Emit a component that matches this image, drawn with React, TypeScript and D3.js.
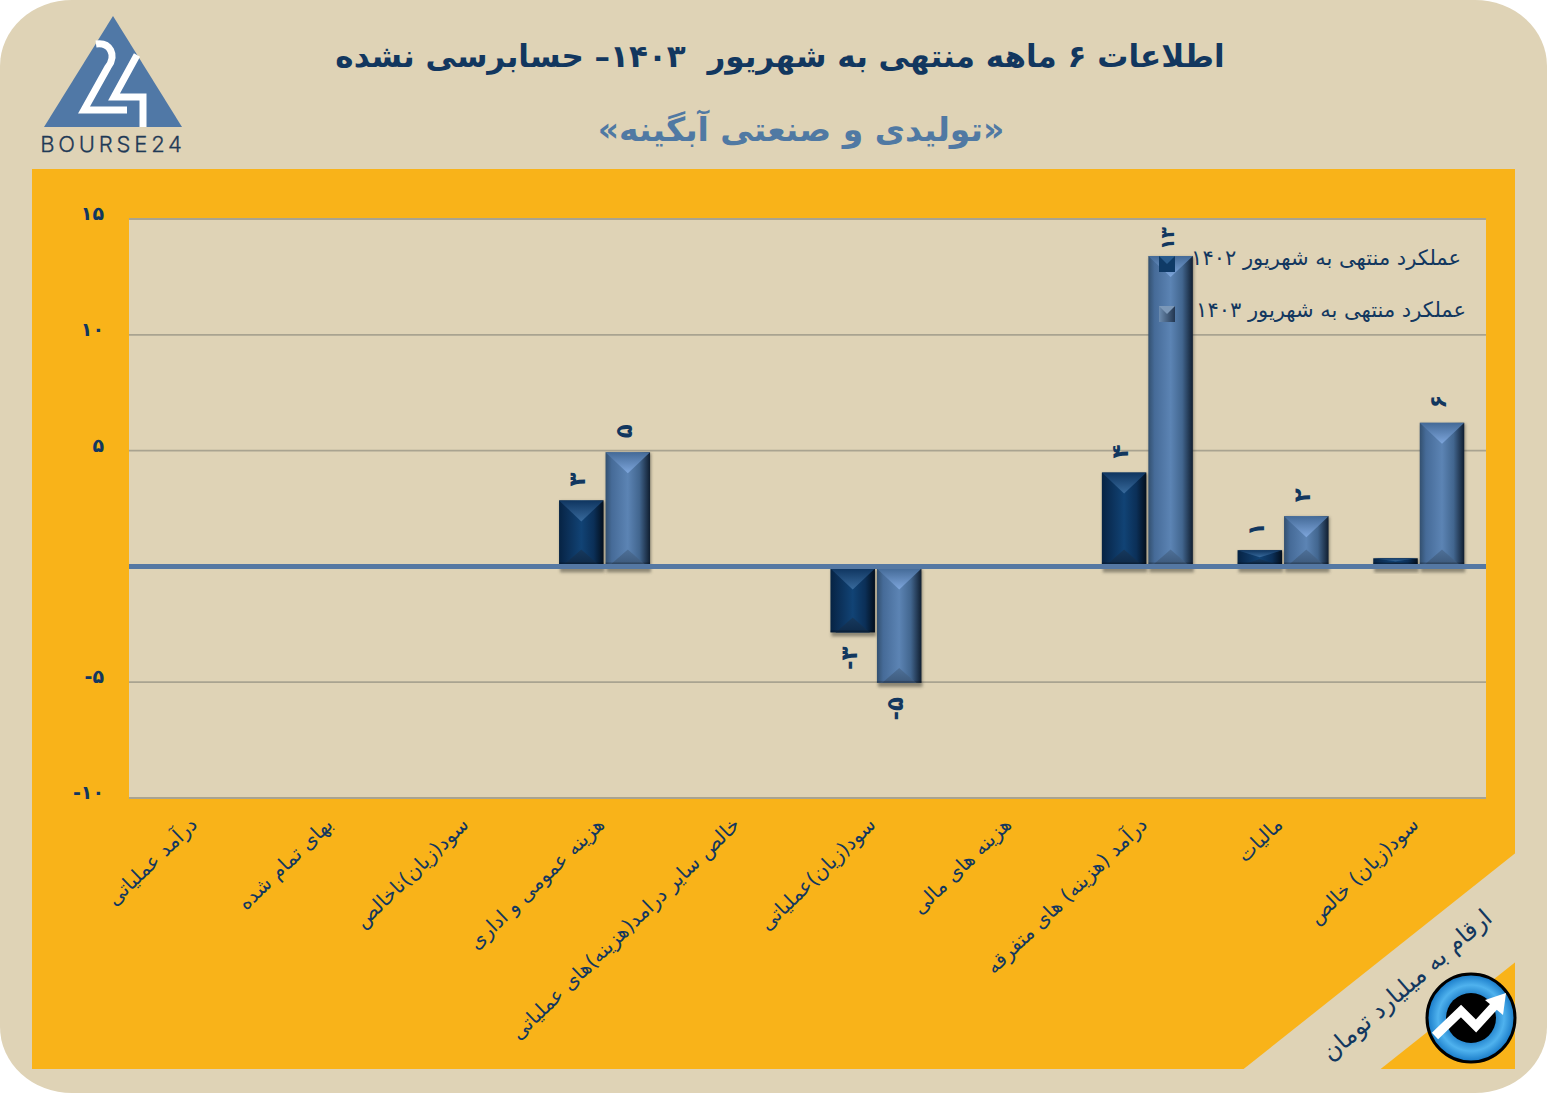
import React from "react";
import * as d3 from "d3";

const categories = ["درآمد عملیاتی","بهای تمام شده","سود(زیان)ناخالص","هزینه عمومی و اداری","خالص سایر درامد(هزینه)های عملیاتی","سود(زیان)عملیاتی","هزینه های مالی","درآمد (هزینه) های متفرقه","مالیات","سود(زیان) خالص"];
const series1402 = [0,0,0,2.85,0,-2.85,-0.08,4.05,0.7,0.35];
const series1403 = [0,0,0,4.93,0,-5.03,-0.08,13.4,2.17,6.2];
const labels1402 = ["","","","۳","","-۳","","۴","۱",""];
const labels1403 = ["","","","۵","","-۵","","۱۳","۲","۶"];
const yTicks = [15,10,5,-5,-10];
const yTickLabels = ["۱۵","۱۰","۵","-۵","-۱۰"];
const legendLabels = ["عملکرد منتهی به شهریور ۱۴۰۲","عملکرد منتهی به شهریور ۱۴۰۳"];
const titleText = "اطلاعات ۶ ماهه منتهی به شهریور  ۱۴۰۳– حسابرسی نشده";
const subtitleText = "«تولیدی و صنعتی آبگینه»";
const unitText = "ارقام به میلیارد تومان";

const FONT = "'DejaVu Sans', sans-serif";
const NAVY = "#12375f";
const BEIGE = "#dfd3b6";
const ORANGE = "#f9b319";

const y = d3.scaleLinear().domain([-10, 15]).range([798, 219]);
const x0 = d3.scaleBand<number>().domain(d3.range(categories.length)).range([129, 1486]);
const barW = 44.5;
const gap = 2;

function Bar({ cx, v, kind }: { cx: number; v: number; kind: string }) {
  if (v === 0) return null;
  const zero = y(0);
  const pos = v > 0;
  const top = pos ? y(v) : zero + 2;
  const bot = pos ? zero - 2 : y(v);
  const h = bot - top;
  if (h <= 0) return null;
  const xl = cx - barW / 2;
  const dTop = Math.min(21, h / 2);
  const dBot = Math.min(15, h / 2.6);
  const pTop = d3.path();
  pTop.moveTo(xl, top); pTop.lineTo(xl + barW, top); pTop.lineTo(xl + barW / 2, top + dTop); pTop.closePath();
  const pBot = d3.path();
  pBot.moveTo(xl + 5, bot); pBot.lineTo(xl + barW - 5, bot); pBot.lineTo(xl + barW / 2, bot - dBot); pBot.closePath();
  return (
    <g>
      <rect x={xl + 1} y={top + 1} width={barW} height={h + (pos ? 7 : 3)} fill="#3b3a30" opacity={0.5} filter="url(#shadow)" />
      <rect x={xl} y={top} width={barW} height={h} fill={`url(#body${kind})`} />
      <path d={pTop.toString()} fill={`url(#top${kind})`} />
      <path d={pBot.toString()} fill={`url(#bot${kind})`} />
      <rect x={xl} y={bot - 2} width={barW} height={2} fill="#000" opacity={0.22} />
    </g>
  );
}

function DataLabel({ cx, v, text }: { cx: number; v: number; text: string }) {
  if (!text) return null;
  const pos = v > 0;
  const twoDigits = pos && text.length > 1;
  const ly = pos ? y(v) - (twoDigits ? 6 : 14) : y(v) + 14;
  return (
    <text transform={`translate(${cx - 4},${ly}) rotate(-90)`} textAnchor={pos ? "start" : "end"} dominantBaseline="central"
      direction="ltr" fontFamily={FONT} fontWeight="bold" fontSize={twoDigits ? 19 : 23} fill={NAVY}>{text}</text>
  );
}

export default function App() {
  const bw = x0.bandwidth();
  const centre = (i: number) => (x0(i) as number) + bw / 2 + 0.6;
  return (
    <svg width={1547} height={1094} style={{ position: "absolute", left: 0, top: 0, background: "#fff" }}>
      <defs>
        <linearGradient id="bodyA" x1="0" x2="1" y1="0" y2="0">
          <stop offset="0" stopColor="#062343" /><stop offset="0.14" stopColor="#0a2c52" />
          <stop offset="0.5" stopColor="#114375" /><stop offset="0.78" stopColor="#0b2f57" /><stop offset="1" stopColor="#030f1d" />
        </linearGradient>
        <linearGradient id="bodyB" x1="0" x2="1" y1="0" y2="0">
          <stop offset="0" stopColor="#33506f" /><stop offset="0.14" stopColor="#466b98" />
          <stop offset="0.5" stopColor="#5c84b4" /><stop offset="0.76" stopColor="#42668f" /><stop offset="1" stopColor="#101e30" />
        </linearGradient>
        <linearGradient id="topA" x1="0" x2="0" y1="0" y2="1">
          <stop offset="0" stopColor="#0f3560" /><stop offset="1" stopColor="#386a9c" />
        </linearGradient>
        <linearGradient id="topB" x1="0" x2="0" y1="0" y2="1">
          <stop offset="0" stopColor="#446a97" /><stop offset="1" stopColor="#7ea6dc" />
        </linearGradient>
        <linearGradient id="botA" x1="0" x2="0" y1="0" y2="1">
          <stop offset="0" stopColor="#16395e" /><stop offset="1" stopColor="#0e2a49" />
        </linearGradient>
        <linearGradient id="botB" x1="0" x2="0" y1="0" y2="1">
          <stop offset="0" stopColor="#4e7098" /><stop offset="1" stopColor="#3d5a7c" />
        </linearGradient>
        <filter id="shadow" x="-20%" y="-10%" width="140%" height="120%"><feGaussianBlur stdDeviation="1.8" /></filter>
        <radialGradient id="orb" cx="0.5" cy="0.5" r="0.5">
          <stop offset="0.5" stopColor="#1c7cc7" /><stop offset="0.75" stopColor="#4fb2ee" /><stop offset="1" stopColor="#1678c6" />
        </radialGradient>
        <linearGradient id="legB" x1="0" x2="1"><stop offset="0" stopColor="#6c8cb0" /><stop offset="1" stopColor="#223650" /></linearGradient>
      </defs>

      <rect x={0} y={0} width={1547} height={1093} rx={72} ry={66} fill={BEIGE} />
      <rect x={32} y={169} width={1483} height={900} fill={ORANGE} />
      <polygon points="1515.5,853 1243,1069.5 1380,1069.5 1515.5,962" fill={BEIGE} />
      <rect x={129} y={219} width={1357} height={579} fill={BEIGE} />

      {/* logo */}
      <polygon points="113,16 44,127 182,127" fill="#5078a6" />
      <path d="M96,44 C110,42 117,55 108,67 L84,110 L127,110" fill="none" stroke="#fff" strokeWidth={7} />
      <path d="M137,55 L114,97 L143,97 L143,127" fill="none" stroke="#fff" strokeWidth={7} />
      <text x={113} y={152} textAnchor="middle" fontFamily="'Inter', sans-serif" fontWeight={300} fontSize={22} letterSpacing={3.8} fill="#1f3a56" stroke="#1f3a56" strokeWidth={0.3}>BOURSE24</text>

      {/* titles */}
      <text x={780} y={67} textAnchor="middle" direction="rtl" fontFamily={FONT} fontWeight="bold" fontSize={31} fill={NAVY} xmlSpace="preserve">{titleText}</text>
      <text x={801} y={141} textAnchor="middle" direction="rtl" fontFamily={FONT} fontWeight="bold" fontSize={33} fill="#5079a3">{subtitleText}</text>

      {/* grid */}
      {yTicks.map((t) => (
        <line key={t} x1={129} x2={1486} y1={y(t)} y2={y(t)} stroke="#a9a390" strokeWidth={1.8} />
      ))}
      {yTicks.map((t, i) => (
        <text key={t} x={104} y={y(t) + 1} textAnchor="end" direction="ltr" fontFamily={FONT} fontWeight="bold" fontSize={19} fill={NAVY}>{yTickLabels[i]}</text>
      ))}

      {/* bars */}
      {categories.map((_, i) => (
        <g key={i}>
          <Bar cx={centre(i) - barW / 2 - gap / 2} v={series1402[i]} kind="A" />
          <Bar cx={centre(i) + barW / 2 + gap / 2} v={series1403[i]} kind="B" />
        </g>
      ))}
      <line x1={129} x2={1486} y1={y(0)} y2={y(0)} stroke="#5578a3" strokeWidth={5} />
      {categories.map((_, i) => (
        <g key={i}>
          <DataLabel cx={centre(i) - barW / 2 - gap / 2} v={series1402[i]} text={labels1402[i]} />
          <DataLabel cx={centre(i) + barW / 2 + gap / 2} v={series1403[i]} text={labels1403[i]} />
        </g>
      ))}

      {/* category labels */}
      {categories.map((c, i) => (
        <text key={i} transform={`translate(${(x0(i) as number) + bw / 2 - 9},${815}) rotate(-44)`} textAnchor="start" direction="rtl"
          dominantBaseline="hanging" fontFamily={FONT} fontSize={20} fill={NAVY}>{c}</text>
      ))}

      {/* legend */}
      {legendLabels.map((l, i) => (
        <g key={i}>
          <rect x={1159} y={[256, 306][i]} width={16} height={16} fill={i === 0 ? "#0f3a66" : "url(#legB)"} />
          <polygon points={`${1159},${[256, 306][i]} ${1175},${[256, 306][i]} ${1167},${[264, 314][i]}`} fill={i === 0 ? "#2a5c8e" : "#7c98b8"} />
          <text x={[1461, 1466][i]} y={[265, 317][i]} textAnchor="start" direction="rtl" fontFamily={FONT} fontSize={21} fill={NAVY}>{l}</text>
        </g>
      ))}

      {/* unit */}
      <text transform="translate(1482,907) rotate(-41)" textAnchor="start" direction="rtl" dominantBaseline="hanging" fontFamily={FONT} fontSize={24} fill={NAVY}>{unitText}</text>

      {/* badge */}
      <circle cx={1471} cy={1018} r={44} fill="url(#orb)" stroke="#000" strokeWidth={3} />
      <circle cx={1471} cy={1018} r={25} fill="#000" />
      <path d="M1435,1036 L1461,1011 L1476,1026 L1497,1003" fill="none" stroke="#fff" strokeWidth={9} />
      <polygon points="1506,993 1503,1015 1485,1000" fill="#fff" />
    </svg>
  );
}
